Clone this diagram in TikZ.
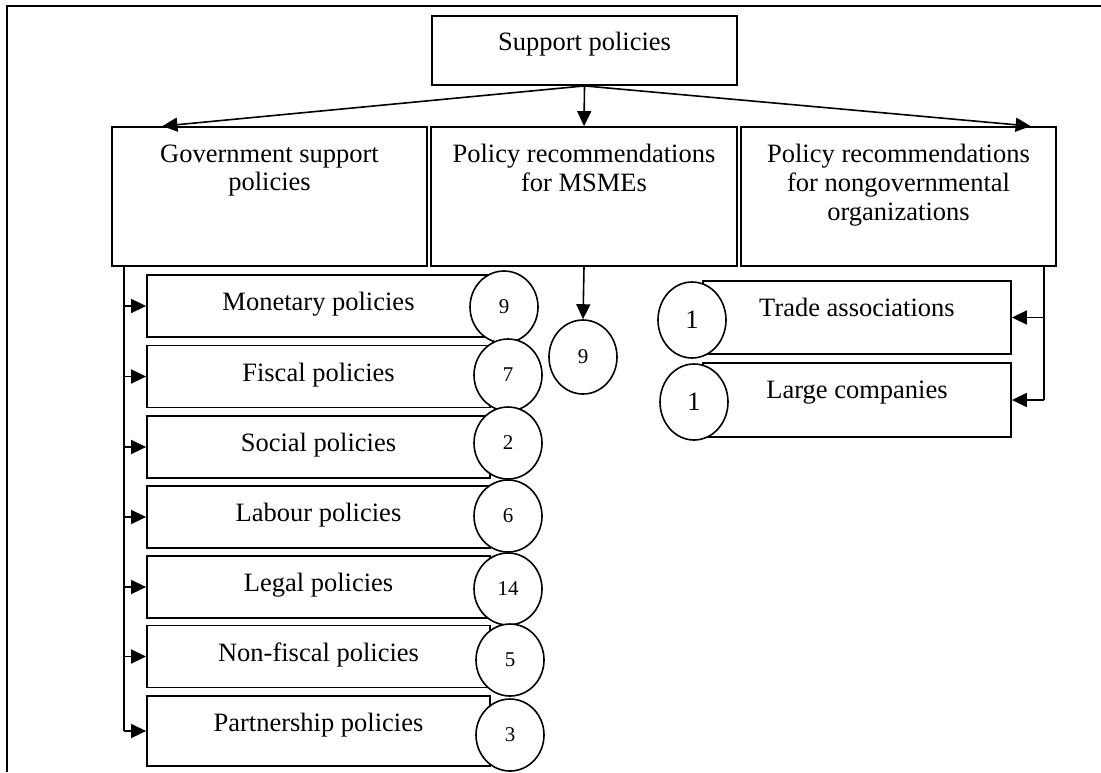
\documentclass[tikz,border=0pt]{standalone}
\usepackage{fontspec}
\setmainfont{Liberation Serif}
\usetikzlibrary{shapes.geometric,arrows.meta,calc}
\newcommand{\mainsize}{\fontsize{13.25pt}{14.3pt}\selectfont}
\newcommand{\smallsize}{\fontsize{10.5pt}{12pt}\selectfont}
\tikzset{
	box/.style      = {shape=rectangle, draw, line width=0.9pt, fill=white},
	bigbox/.style   = {box, minimum width=157.5pt, minimum height=69.5pt},
	polbox/.style   = {box, minimum width=171.5pt, minimum height=31pt},
	ngobox/.style   = {box, minimum width=154pt, minimum height=37pt},
	count/.style    = {ellipse, draw, line width=0.8pt, fill=white, inner sep=0pt,
		minimum width=34pt, minimum height=36pt, font=\smallsize},
	conn/.style     = {draw, line width=0.8pt, -{Triangle[length=7.5pt,width=7pt]}},
	spine/.style    = {draw, line width=0.8pt},
	every label/.style = {anchor=north, inner sep=0pt, yshift=-9pt, align=center}
}

\begin{document}
\begin{tikzpicture}
[
x                 = 0.5pt,
y                 = -0.5pt,
every node/.style = {font=\mainsize}
]
\useasboundingbox (0,0) rectangle (1101,772);
\draw[line width=0.8pt] (1101,6) -- (7,6) -- (7,772);

% top level
\node [box, minimum width=152.5pt, minimum height=34.5pt,
	label={[yshift=0.5pt]north:Support policies}] (sup) at (584.5,50.5) {};
\node [bigbox, label=north:{Government support\\policies}] (gov) at (269.5,196.5) {};
\node [bigbox, minimum width=153pt, label=north:{Policy recommendations\\for MSMEs}] (msme) at (584,196.5) {};
\node [bigbox, label=north:{Policy recommendations\\for nongovernmental\\organizations}] (ngo) at (898.5,196.5) {};

% government policies
\node [polbox, label=north:Monetary policies] (mon) at (318.5,306) {};
\node [polbox, label=north:Fiscal policies] (fis) at (318.5,376.5) {};
\node [polbox, label=north:Social policies] (soc) at (318.5,447) {};
\node [polbox, label=north:Labour policies] (lab) at (318.5,517) {};
\node [polbox, label=north:Legal policies] (leg) at (318.5,587) {};
\node [polbox, label=north:Non-fiscal policies] (nfi) at (318.5,656.5) {};
\node [polbox, minimum height=35pt, label=north:Partnership policies] (par) at (318.5,731) {};

\node [count] (nmon) at (504,307) {9};
\node [count] (nfis) at (508,375) {7};
\node [count] (nsoc) at (508,443) {2};
\node [count] (nlab) at (508,516) {6};
\node [count] (nleg) at (508,589) {14};
\node [count] (nnfi) at (510,660) {5};
\node [count] (npar) at (510,735) {3};

% MSMEs
\node [count, minimum height=37pt] (nmsme) at (583,357) {9};

% nongovernmental organizations
\node [ngobox, minimum height=36.5pt, label=north:Trade associations] (trade) at (857,317.5) {};
\node [ngobox, label=north:Large companies] (large) at (857,400) {};
\node [count, font=\mainsize, minimum height=38pt] (ntrade) at (692,320) {1};
\node [count, font=\mainsize, minimum height=38pt] (nlarge) at (694,402) {1};

% connectors
\draw [conn] (sup.south) -- ($(gov.north west)!0.162!(gov.north east)$);
\draw [conn] (sup.south) -- (msme.north);
\draw [conn] (sup.south) -- ($(ngo.north west)!0.917!(ngo.north east)$);

\coordinate (gspine) at ($(gov.south west)!0.041!(gov.south east)$);
\draw [spine] (gspine) -- (gspine |- par.west);
\draw [conn] (gspine |- mon.west) -- (mon.west);
\draw [conn] (gspine |- fis.west) -- (fis.west);
\draw [conn] (gspine |- soc.west) -- (soc.west);
\draw [conn] (gspine |- lab.west) -- (lab.west);
\draw [conn] (gspine |- leg.west) -- (leg.west);
\draw [conn] (gspine |- nfi.west) -- (nfi.west);
\draw [conn] (gspine |- par.west) -- (par.west);

\draw [conn] (msme.south) -- (nmsme.north);

\coordinate (nspine) at ($(ngo.south west)!0.959!(ngo.south east)$);
\draw [spine] (nspine) -- (nspine |- large.east);
\draw [conn] (nspine |- trade.east) -- (trade.east);
\draw [conn] (nspine |- large.east) -- (large.east);
\end{tikzpicture}
\end{document}
